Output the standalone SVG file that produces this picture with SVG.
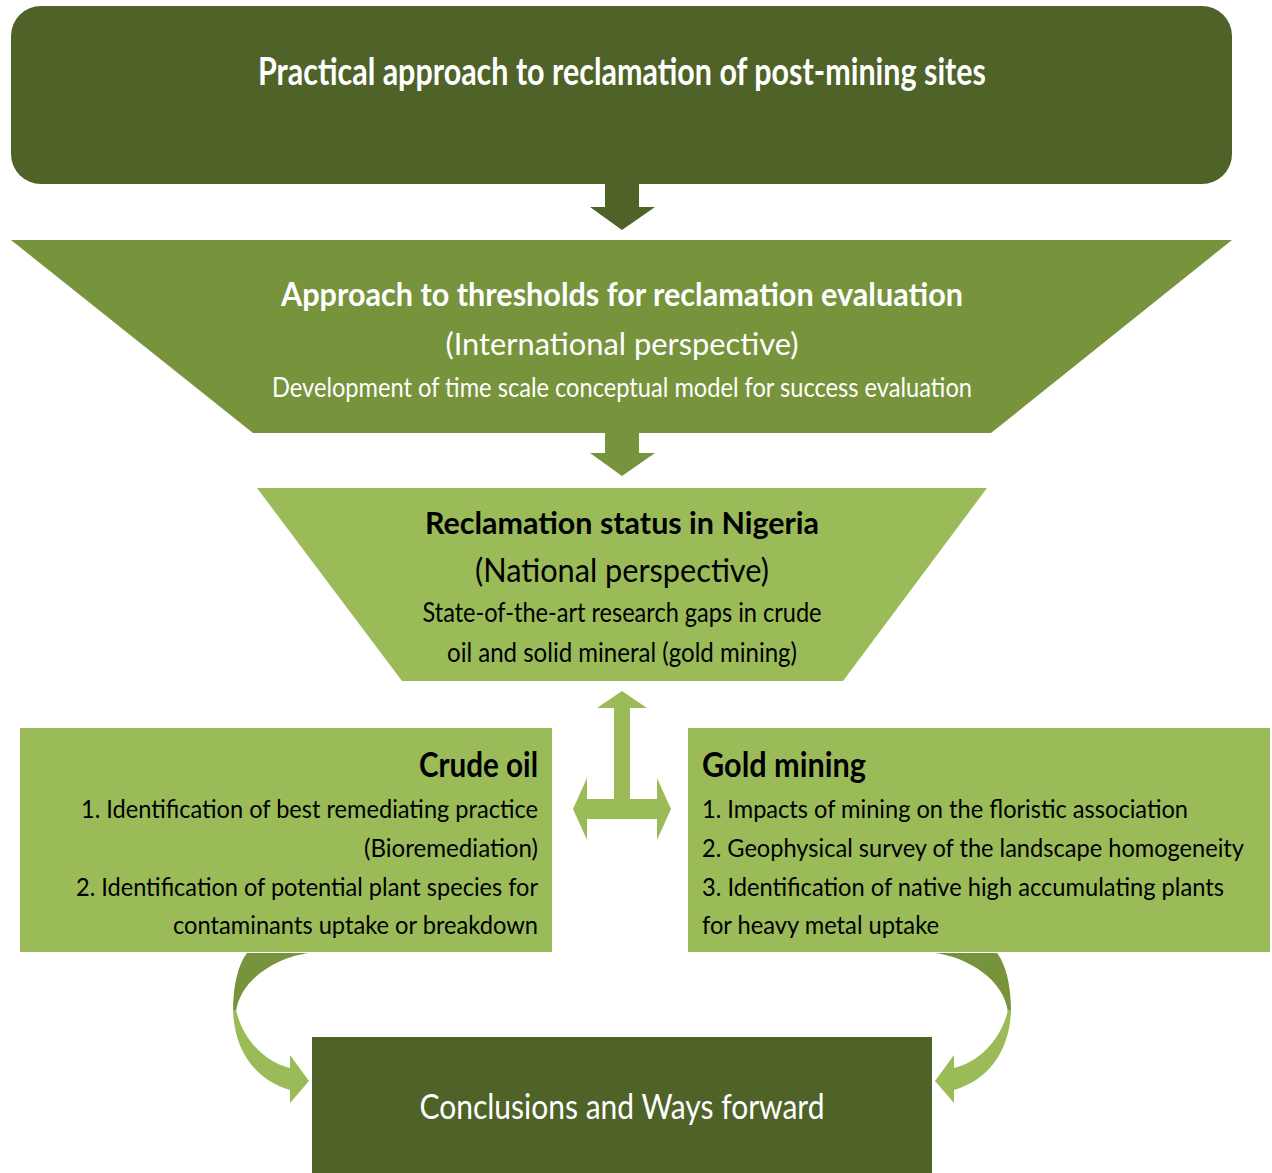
<svg xmlns="http://www.w3.org/2000/svg" width="1272" height="1173" viewBox="0 0 1272 1173">
<style>
.t{font-family:Lato,"Open Sans","Liberation Sans",sans-serif}
.b{font-weight:bold}
.w{fill:#ffffff}
.k{fill:#000000}
.dark{fill:#4F6228}
.mid{fill:#77933C}
.light{fill:#9BBB59}
.it{font-size:22px}
</style>
<rect width="1272" height="1173" fill="#ffffff"/>
<g id="connectors">
  <polygon class="dark" points="605,184 639,184 639,207 655,207 622,230 590,207 605,207"/>
  <polygon class="mid" points="605,432 639,432 639,453 655,453 622,476 590,453 605,453"/>
  <polygon class="light" points="622,691 647,708 630,708 630,799 657,799 657,778 671,809 657,840 657,819 587,819 587,840 573,809 587,778 587,799 614,799 614,708 597,708"/>
  <g id="curve-left">
    <path class="mid" d="M247,953 L308,953 C275,958 240,980 236,1012 L233,1012 C233,985 238,965 247,953 Z"/>
    <path class="light" d="M233,1010 C234,1050 255,1080 290,1090 L290,1103 L309,1081 L290,1055 L290,1068 C265,1062 243,1040 236,1010 Z"/>
  </g>
  <g id="curve-right" transform="translate(1244,0) scale(-1,1)">
    <path class="mid" d="M247,953 L308,953 C275,958 240,980 236,1012 L233,1012 C233,985 238,965 247,953 Z"/>
    <path class="light" d="M233,1010 C234,1050 255,1080 290,1090 L290,1103 L309,1081 L290,1055 L290,1068 C265,1062 243,1040 236,1010 Z"/>
  </g>
</g>
<g id="node-top">
  <rect class="dark" x="11" y="6" width="1221" height="178" rx="30" ry="30"/>
  <text class="t b w" x="622" y="85" font-size="38" text-anchor="middle" textLength="728" lengthAdjust="spacingAndGlyphs">Practical approach to reclamation of post-mining sites</text>
</g>
<g id="node-international">
  <polygon class="mid" points="11,240 1232,240 991,433 253,433"/>
  <text class="t b w" x="622" y="306" font-size="33" text-anchor="middle" textLength="682" lengthAdjust="spacingAndGlyphs">Approach to thresholds for reclamation evaluation</text>
  <text class="t w" x="622" y="355" font-size="31" text-anchor="middle" textLength="353" lengthAdjust="spacingAndGlyphs">(International perspective)</text>
  <text class="t w" x="622" y="397" font-size="26" text-anchor="middle" textLength="700" lengthAdjust="spacingAndGlyphs">Development of time scale conceptual model for success evaluation</text>
</g>
<g id="node-national">
  <polygon class="light" points="257,488 987,488 843,681 402,681"/>
  <text class="t b k" x="622" y="534" font-size="31" text-anchor="middle" textLength="394" lengthAdjust="spacingAndGlyphs">Reclamation status in Nigeria</text>
  <text class="t k" x="622" y="582" font-size="32" text-anchor="middle" textLength="294" lengthAdjust="spacingAndGlyphs">(National perspective)</text>
  <text class="t k" x="622" y="622" font-size="26" text-anchor="middle" textLength="399" lengthAdjust="spacingAndGlyphs">State-of-the-art research gaps in crude</text>
  <text class="t k" x="622" y="662" font-size="26" text-anchor="middle" textLength="350" lengthAdjust="spacingAndGlyphs">oil and solid mineral (gold mining)</text>
</g>
<g id="node-crude-oil">
  <rect class="light" x="20" y="728" width="532" height="224"/>
  <text class="t b k" x="538" y="777" font-size="34" text-anchor="end" textLength="119" lengthAdjust="spacingAndGlyphs">Crude oil</text>
  <text class="t k it" transform="translate(538,818) scale(1,1.18)" x="0" y="0" text-anchor="end" textLength="457" lengthAdjust="spacingAndGlyphs">1. Identification of best remediating practice</text>
  <text class="t k it" transform="translate(538,857) scale(1,1.18)" x="0" y="0" text-anchor="end" textLength="174" lengthAdjust="spacingAndGlyphs">(Bioremediation)</text>
  <text class="t k it" transform="translate(538,896) scale(1,1.18)" x="0" y="0" text-anchor="end" textLength="462" lengthAdjust="spacingAndGlyphs">2. Identification of potential plant species for</text>
  <text class="t k it" transform="translate(538,934) scale(1,1.18)" x="0" y="0" text-anchor="end" textLength="365" lengthAdjust="spacingAndGlyphs">contaminants uptake or breakdown</text>
</g>
<g id="node-gold-mining">
  <rect class="light" x="688" y="728" width="582" height="224"/>
  <text class="t b k" x="702" y="777" font-size="34" textLength="164" lengthAdjust="spacingAndGlyphs">Gold mining</text>
  <text class="t k it" transform="translate(702,818) scale(1,1.18)" x="0" y="0" textLength="486" lengthAdjust="spacingAndGlyphs">1. Impacts of mining on the floristic association</text>
  <text class="t k it" transform="translate(702,857) scale(1,1.18)" x="0" y="0" textLength="542" lengthAdjust="spacingAndGlyphs">2. Geophysical survey of the landscape homogeneity</text>
  <text class="t k it" transform="translate(702,896) scale(1,1.18)" x="0" y="0" textLength="522" lengthAdjust="spacingAndGlyphs">3. Identification of native high accumulating plants</text>
  <text class="t k it" transform="translate(702,934) scale(1,1.18)" x="0" y="0" textLength="237" lengthAdjust="spacingAndGlyphs">for heavy metal uptake</text>
</g>
<g id="node-conclusions">
  <rect class="dark" x="312" y="1037" width="620" height="136"/>
  <text class="t w" x="622" y="1119" font-size="34" text-anchor="middle" textLength="405" lengthAdjust="spacingAndGlyphs">Conclusions and Ways forward</text>
</g>
</svg>
